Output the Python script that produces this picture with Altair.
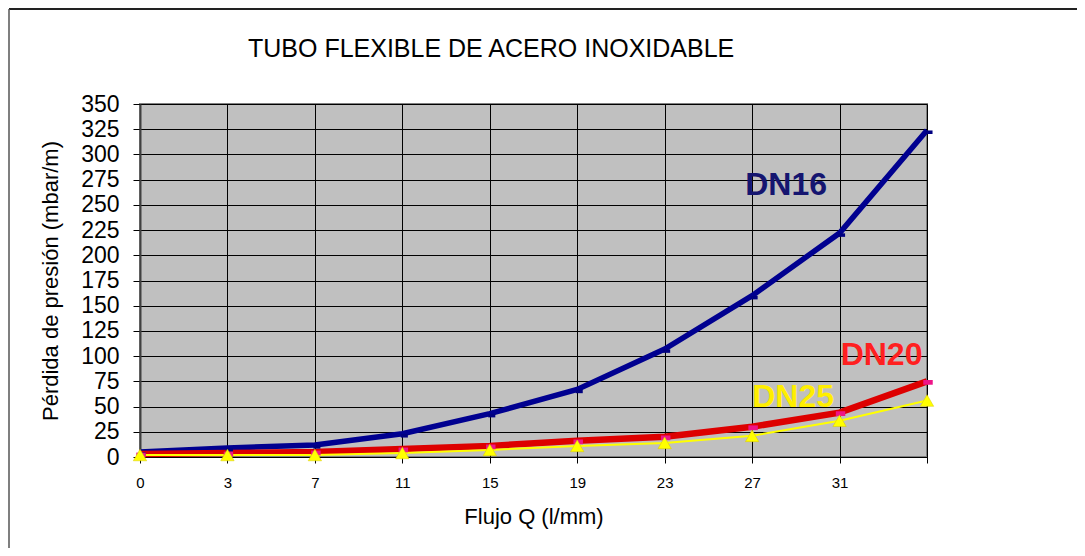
import altair as alt
import pandas as pd

# ---- data ----
flow_labels = ["0", "3", "7", "11", "15", "19", "23", "27", "31", "35"]
dn16 = [5, 9, 12, 23, 43, 67, 107, 160, 222, 324]
dn20 = [3, 4, 5, 8, 11, 16, 20, 30, 44, 75]
dn25 = [2, 2, 2, 4, 7, 11, 14, 21, 36, 56]

series_names = ["DN16", "DN20", "DN25"]
series_line_colors = ["#000090", "#dd0000", "#ffff00"]

label_text = ["DN16", "DN20", "DN25"]
label_cat = ["27", "31", "27"]
label_val = [270, 101, 59]
label_colors = ["#151570", "#ff2020", "#ffee00"]
label_dx = [34, 42, 41]

chart_title = "TUBO FLEXIBLE DE ACERO INOXIDABLE"

y_ticks = list(range(0, 351, 25))

rows = []
for name, vals in zip(series_names, [dn16, dn20, dn25]):
    for q, v in zip(flow_labels, vals):
        rows.append({"serie": name, "q": q, "v": v})
df = pd.DataFrame(rows)

FONT = "Liberation Sans"

x_axis = alt.Axis(
    title="Flujo Q (l/mm)",
    labelAngle=0,
    labelExpr="datum.label == '35' ? '' : datum.label",
    labelFontSize=15,
    labelPadding=12,
    tickSize=6,
    titleFontSize=22,
    titlePadding=16,
    grid=True,
    gridColor="#000000",
    gridOpacity=1,
    domainColor="#000000",
    tickColor="#000000",
    labelColor="#000000",
    titleColor="#000000",
    titleFontWeight="normal",
    labelFont=FONT,
    titleFont=FONT,
)
y_axis = alt.Axis(
    title="Pérdida de presión (mbar/m)",
    values=y_ticks,
    labelOverlap=False,
    labelFontSize=23,
    labelPadding=14,
    tickSize=7,
    titleFontSize=22,
    titlePadding=18,
    grid=True,
    gridColor="#000000",
    gridOpacity=1,
    domainColor="#404040",
    domainWidth=2,
    tickColor="#000000",
    labelColor="#000000",
    titleColor="#000000",
    titleFontWeight="normal",
    labelFont=FONT,
    titleFont=FONT,
)

x_enc = alt.X("q:O", sort=flow_labels, scale=alt.Scale(type="point", padding=0), axis=x_axis)
y_enc = alt.Y("v:Q", scale=alt.Scale(domain=[0, 350], nice=False), axis=y_axis)

def sub(name):
    return df[df["serie"] == name]

line16 = alt.Chart(sub("DN16")).mark_line(color=series_line_colors[0], strokeWidth=5.5).encode(x=x_enc, y=y_enc)
line20 = alt.Chart(sub("DN20")).mark_line(color=series_line_colors[1], strokeWidth=6.5).encode(x=x_enc, y=y_enc)
line25 = alt.Chart(sub("DN25")).mark_line(color=series_line_colors[2], strokeWidth=2).encode(x=x_enc, y=y_enc)

rect_shape = "M-1,-0.5L1,-0.5L1,0.5L-1,0.5Z"
pts16 = alt.Chart(sub("DN16")).mark_point(
    shape=rect_shape, filled=True, color="#000080", size=50, opacity=1, xOffset=2, yOffset=2
).encode(x=x_enc, y=y_enc)
pts20 = alt.Chart(sub("DN20")).mark_point(
    shape=rect_shape, filled=True, color="#ee1488", size=90, opacity=1, xOffset=1, yOffset=1
).encode(x=x_enc, y=y_enc)
pts25 = alt.Chart(sub("DN25")).mark_point(
    shape="triangle-up", filled=True, color="#ffff00", size=180, opacity=1,
    stroke="#d8c800", strokeWidth=0.5
).encode(x=x_enc, y=y_enc)

labels = []
for t, c, v, col, dx in zip(label_text, label_cat, label_val, label_colors, label_dx):
    ldf = pd.DataFrame({"q": [c], "v": [v], "t": [t]})
    labels.append(
        alt.Chart(ldf).mark_text(
            font=FONT, fontSize=32, fontWeight="bold", color=col, dx=dx, align="center", baseline="middle"
        ).encode(x=x_enc, y=y_enc, text="t:N")
    )

one = pd.DataFrame({"t": [chart_title]})
title_mark = alt.Chart(one).mark_text(
    font=FONT, fontSize=25, color="#000000", align="left", baseline="alphabetic"
).encode(x=alt.value(108), y=alt.value(-47), text="t:N")
frame_top = alt.Chart(one).mark_rule(color="#222222", strokeWidth=2).encode(
    x=alt.value(-131), x2=alt.value(937), y=alt.value(-95), y2=alt.value(-95)
)
frame_left = alt.Chart(one).mark_rule(color="#555555", strokeWidth=1.5).encode(
    x=alt.value(-131), x2=alt.value(-131), y=alt.value(-95), y2=alt.value(444)
)

chart = alt.layer(
    line16, line20, line25, pts16, pts20, pts25, *labels, title_mark, frame_top, frame_left
).properties(
    width=787,
    height=353,
    padding={"left": 132, "top": 96, "right": 150, "bottom": 91},
    autosize=alt.AutoSizeParams(type="none"),
).configure_view(
    fill="#c0c0c0", stroke="#808080", strokeWidth=2
)

chart.save("out.html", embed_options={"renderer": "svg", "actions": False})
